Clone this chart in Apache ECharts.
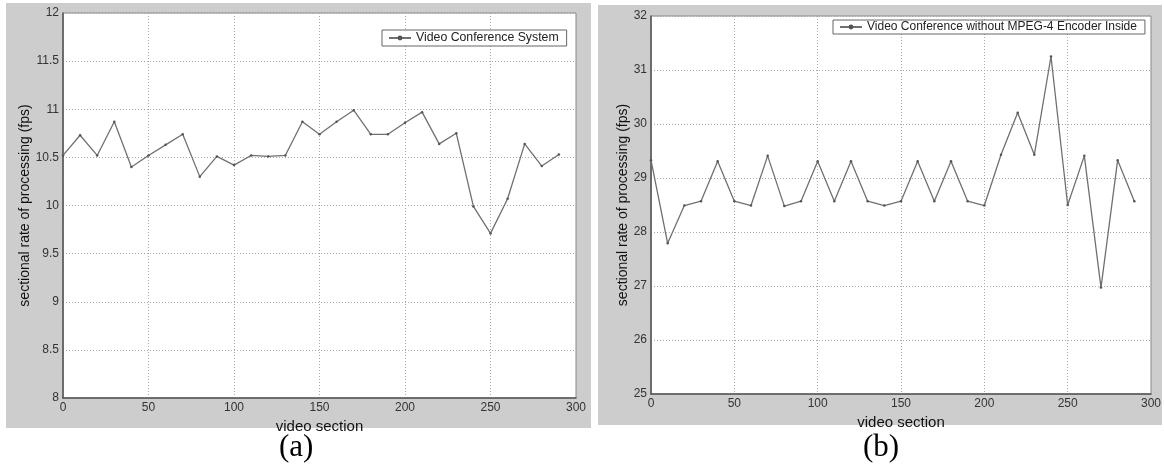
<!DOCTYPE html>
<html>
<head>
<meta charset="utf-8">
<script src="https://cdn.jsdelivr.net/npm/echarts@6/dist/echarts.min.js"></script>
<style>html,body{margin:0;padding:0;background:#fff;}#c{width:1164px;height:468px;}</style>
</head>
<body>
<div id="c"></div>
<script>
const sectionsA = [0,10,20,30,40,50,60,70,80,90,100,110,120,130,140,150,160,170,180,190,200,210,220,230,240,250,260,270,280,290];
const valuesA = [10.52,10.73,10.52,10.87,10.40,10.52,10.63,10.74,10.30,10.51,10.42,10.52,10.51,10.52,10.87,10.74,10.87,10.99,10.74,10.74,10.86,10.97,10.64,10.75,9.99,9.71,10.07,10.64,10.41,10.53];
const sectionsB = [0,10,20,30,40,50,60,70,80,90,100,110,120,130,140,150,160,170,180,190,200,210,220,230,240,250,260,270,280,290];
const valuesB = [29.33,27.79,28.49,28.57,29.31,28.57,28.49,29.41,28.48,28.57,29.31,28.57,29.31,28.57,28.49,28.57,29.31,28.57,29.31,28.57,28.49,29.43,30.21,29.43,31.25,28.50,29.41,26.97,29.33,28.57];
const nameA = 'Video Conference System';
const nameB = 'Video Conference without MPEG-4 Encoder Inside';
const xTitle = 'video section';
const yTitle = 'sectional rate of processing (fps)';

const chart = echarts.init(document.getElementById('c'));
const font = 'Liberation Sans, Arial, sans-serif';
function xAx(gi){
  return {type:'value', gridIndex:gi, min:0, max:300, interval:50,
    name:xTitle, nameLocation:'middle', nameGap:11,
    nameTextStyle:{fontFamily:font, fontSize:15, color:'#111'},
    axisLine:{show:true, lineStyle:{color:'#555', width:1.5}},
    axisTick:{show:false},
    axisLabel:{fontFamily:font, fontSize:12, color:'#333', margin:4},
    splitLine:{show:true, lineStyle:{color:'#aaa', type:[1,2], width:1}}};
}
function yAx(gi, mn, mx, iv, gap){
  return {type:'value', gridIndex:gi, min:mn, max:mx, interval:iv,
    name:yTitle, nameLocation:'middle', nameGap:gap,
    nameTextStyle:{fontFamily:font, fontSize:14, color:'#111'},
    axisLine:{show:true, lineStyle:{color:'#555', width:1.5}},
    axisTick:{show:false},
    axisLabel:{fontFamily:font, fontSize:12, color:'#333', margin:4},
    splitLine:{show:true, lineStyle:{color:'#aaa', type:[1,2], width:1}}};
}
function ser(name, xs, ys, gi){
  return {type:'line', name:name, xAxisIndex:gi, yAxisIndex:gi,
    data: xs.map((x,i)=>[x, ys[i]]),
    symbol:'circle', symbolSize:2.5, showSymbol:true,
    lineStyle:{color:'#707070', width:1.3},
    itemStyle:{color:'#555'}, animation:false};
}
chart.setOption({
  animation:false,
  graphic:[
    {type:'rect', shape:{x:6, y:3, width:585, height:425}, style:{fill:'#cdcdcd'}, z:-10},
    {type:'rect', shape:{x:598, y:5, width:564, height:420}, style:{fill:'#cdcdcd'}, z:-10},
    {type:'text', left:279, top:432, style:{text:'(a)', font:'31px "Liberation Serif", "Times New Roman", serif', fill:'#000'}},
    {type:'text', left:863, top:432, style:{text:'(b)', font:'31px "Liberation Serif", "Times New Roman", serif', fill:'#000'}}
  ],
  grid:[
    {left:63, top:13, width:513, height:385, show:true, backgroundColor:'#fff', borderColor:'#888', borderWidth:1},
    {left:651, top:16, width:503, height:378, show:true, backgroundColor:'#fff', borderColor:'#888', borderWidth:1}
  ],
  xAxis:[xAx(0), xAx(1)],
  yAxis:[yAx(0, 8, 12, 0.5, 28), yAx(1, 25, 32, 1, 19)],
  legend:[
    {id:'legA', data:[nameA], left:382, top:30, orient:'horizontal', backgroundColor:'#fff', borderColor:'#666', borderWidth:1,
     padding:[2,8,2,6], itemWidth:22, itemHeight:6, selectedMode:false,
     textStyle:{fontFamily:font, fontSize:12.3, color:'#222'}},
    {id:'legB', data:[nameB], left:833, top:20, orient:'horizontal', backgroundColor:'#fff', borderColor:'#666', borderWidth:1,
     padding:[1,8,1,6], itemWidth:22, itemHeight:6, selectedMode:false,
     textStyle:{fontFamily:font, fontSize:12, color:'#222'}}
  ],
  series:[ser(nameA, sectionsA, valuesA, 0), ser(nameB, sectionsB, valuesB, 1)]
});
</script>
</body>
</html>
